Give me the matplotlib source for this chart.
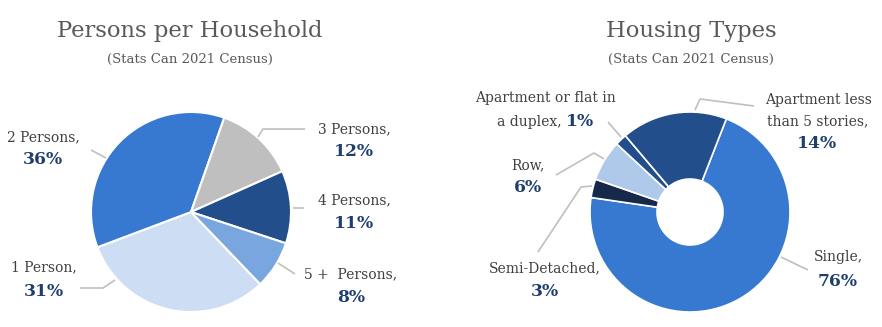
import matplotlib
matplotlib.use("Agg")
import matplotlib.pyplot as plt

# data (wedge shares as drawn, label percents as printed)
household_labels = ["1 Person,", "2 Persons,", "3 Persons,", "4 Persons,", "5 +  Persons,"]
household_share = [31.4, 36.1, 12.9, 11.75, 7.75]
household_pct = [31, 36, 12, 11, 8]
household_colors = ["#CDDDF3", "#3778D0", "#BFBFBF", "#224E8C", "#7AA6E0"]

housing_labels = ["Single,", "Semi-Detached,", "Row,", "Apartment or flat in\na duplex,",
                  "Apartment less\nthan 5 stories,"]
housing_share = [71.4, 3.0, 6.6, 1.9, 17.1]
housing_pct = [76, 3, 6, 1, 14]
housing_colors = ["#3778D0", "#16294A", "#AFC9EB", "#224E8C", "#224E8C"]

W, H = 882, 327
TEXT = "#404040"
PCT = "#1F3E6E"
LEADER = "#BFBFBF"
NAME_FS = 10
PCT_FS = 12.3
plt.rcParams["font.family"] = ["DejaVu Serif"]


def fy(y):
    # pixel row (from top) -> data y
    return H - y


fig = plt.figure(figsize=(W / 100, H / 100), dpi=100)
ax = fig.add_axes([0, 0, 1, 1])

# ---- left: persons per household ----
ax.pie(household_share, colors=household_colors, center=(191, fy(212)), radius=100,
       startangle=-46.2, counterclock=False, frame=True,
       wedgeprops=dict(edgecolor="white", linewidth=1.5))

# ---- right: housing types (doughnut) ----
ax.pie(housing_share, colors=housing_colors, center=(690, fy(212)), radius=100,
       startangle=68.7, counterclock=False, frame=True,
       wedgeprops=dict(width=67, edgecolor="white", linewidth=1.2))

ax.set_xlim(0, W)
ax.set_ylim(0, H)
ax.set_aspect("auto")
ax.axis("off")

# titles
for x, title in [(190, "Persons per Household"), (691, "Housing Types")]:
    ax.text(x, fy(31), title, ha="center", va="center", fontsize=16.3, color="#595959")
    ax.text(x, fy(59), "(Stats Can 2021 Census)", ha="center", va="center",
            fontsize=9.5, color="#595959")

# label layout: (x, y of name line, y of percent line) in pixels
household_pos = [(44, 267, 291), (43, 137, 160), (354, 129, 152),
                 (354, 200, 223), (351, 274, 298)]
for name, pct, (x, y1, y2) in zip(household_labels, household_pct, household_pos):
    ax.text(x, fy(y1), name, ha="center", va="center", fontsize=NAME_FS, color=TEXT)
    ax.text(x, fy(y2), f"{pct}%", ha="center", va="center", fontsize=PCT_FS,
            fontweight="bold", color=PCT)

household_leaders = [
    [(115, 280), (103, 288), (80, 288)],
    [(91, 150), (106, 158)],
    [(258, 137), (263, 129), (305, 129)],
    [(293, 208), (304, 208)],
    [(278, 263), (295, 274)],
]

# housing labels: single-line names
housing_pos = [(838, 257, 281), (545, 268, 292), (528, 165, 187)]
for name, pct, (x, y1, y2) in zip(housing_labels[:3], housing_pct[:3], housing_pos):
    ax.text(x, fy(y1), name, ha="center", va="center", fontsize=NAME_FS, color=TEXT)
    ax.text(x, fy(y2), f"{pct}%", ha="center", va="center", fontsize=PCT_FS,
            fontweight="bold", color=PCT)

# duplex: percent sits on the second name line
line1, line2 = housing_labels[3].split("\n")
ax.text(545, fy(98), line1, ha="center", va="center", fontsize=NAME_FS, color=TEXT)
ax.text(566, fy(122), line2 + " ", ha="right", va="center", fontsize=NAME_FS, color=TEXT)
ax.text(566, fy(122), f"{housing_pct[3]}%", ha="left", va="center", fontsize=PCT_FS,
        fontweight="bold", color=PCT)

line1, line2 = housing_labels[4].split("\n")
ax.text(819, fy(100), line1, ha="center", va="center", fontsize=NAME_FS, color=TEXT)
ax.text(818, fy(121), line2, ha="center", va="center", fontsize=NAME_FS, color=TEXT)
ax.text(817, fy(144), f"{housing_pct[4]}%", ha="center", va="center", fontsize=PCT_FS,
        fontweight="bold", color=PCT)

housing_leaders = [
    [(781, 257), (808, 270)],
    [(592, 186), (581, 187), (538, 252)],
    [(604, 159), (594, 153), (556, 175)],
    [(621, 137), (608, 122)],
    [(695, 110), (700, 99), (754, 106)],
]

for pts in household_leaders + housing_leaders:
    xs = [p[0] for p in pts]
    ys = [fy(p[1]) for p in pts]
    ax.plot(xs, ys, color=LEADER, linewidth=1.2, solid_capstyle="butt")

fig.savefig("out.png", dpi=100)
